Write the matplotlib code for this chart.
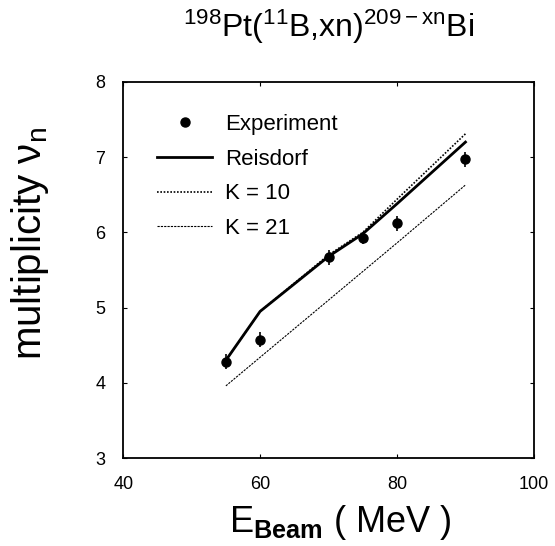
import matplotlib
matplotlib.use("Agg")
import matplotlib.pyplot as plt

# police proche de Helvetica
plt.rcParams['font.family'] = ['Liberation Sans', 'DejaVu Sans']
plt.rcParams['mathtext.fontset'] = 'custom'
plt.rcParams['mathtext.rm'] = 'Liberation Sans'
plt.rcParams['mathtext.it'] = 'Liberation Sans:italic'
plt.rcParams['mathtext.bf'] = 'Liberation Sans:bold'

### données
e_exp = [55, 60, 70, 75, 80, 90]
nu_exp = [4.28, 4.57, 5.67, 5.93, 6.12, 6.97]
nu_err = [0.1, 0.1, 0.1, 0.08, 0.1, 0.1]

e_theo = [55, 60, 70, 75, 80, 90]
nu_reisdorf = [4.30, 4.95, 5.68, 5.98, 6.38, 7.20]
nu_k10 = [4.30, 4.95, 5.70, 6.00, 6.44, 7.31]
nu_k21 = [3.96, 4.34, 5.10, 5.48, 5.86, 6.63]

fig = plt.figure(figsize=(5.55, 5.46), dpi=100)
ax = fig.add_axes([0.222, 0.161, 0.740, 0.689])

# barres d'erreur sans label, points avec label (légende = simple point)
ax.errorbar(e_exp, nu_exp, yerr=nu_err, fmt='none', ecolor='black',
            elinewidth=1.2, capsize=0, zorder=5)
ax.plot(e_exp, nu_exp, 'o', color='black', ms=6.5, label='Experiment', zorder=6)
ax.plot(e_theo, nu_reisdorf, '-', color='black', lw=2.0, label='Reisdorf')
ax.plot(e_theo, nu_k10, color='black', lw=1.2, linestyle=(0, (1, 1)), label='K = 10')
ax.plot(e_theo, nu_k21, color='black', lw=0.8, linestyle=(0, (2, 1)), label='K = 21')

ax.set_xlim(40, 100)
ax.set_ylim(3, 8)
ax.set_xticks([40, 60, 80, 100])
ax.set_yticks([3, 4, 5, 6, 7, 8])
ax.tick_params(direction='in', length=3, width=0.8, top=True, right=True,
               labelsize=13, pad=13)
for s in ax.spines.values():
    s.set_linewidth(1.3)

ax.set_xlabel(r'E$_{\mathbf{Beam}}$ ( MeV )', fontsize=26)
ax.xaxis.label.set_va('center')
ax.xaxis.set_label_coords(0.528, -0.172)
ax.set_ylabel(r'multiplicity $\mathrm{\nu_{n}}$', fontsize=29)
ax.yaxis.label.set_va('center')
ax.yaxis.set_label_coords(-0.226, 0.572)
ax.text(0.5, 1.146, r'$^{198}$Pt($^{11}$B,xn)$^{\mathrm{209-xn}}$Bi', fontsize=23,
        ha='center', va='center', transform=ax.transAxes)

ax.legend(loc='upper left', bbox_to_anchor=(0.083, 0.915), frameon=False,
          fontsize=16, handlelength=2.45, handletextpad=0.6, labelspacing=0.62,
          borderpad=0, borderaxespad=0)

fig.savefig('out.png', dpi=100)
